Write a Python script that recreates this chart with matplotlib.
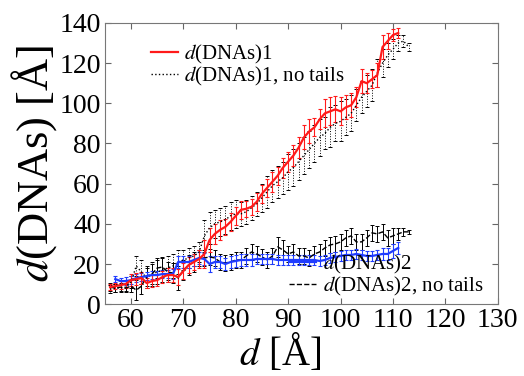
import numpy as np
import matplotlib
matplotlib.use("Agg")
import matplotlib.pyplot as plt

# donnees
x1 = np.arange(56, 112)
d1 = [8.5, 9, 9.5, 10, 12, 12.5, 13, 10.5, 11.5, 12, 13.5, 14.5, 14.5, 13.5,
      16.5, 19.5, 21, 22.5, 25, 32, 35, 37, 38.5, 41, 44, 47, 47.5, 48.5, 51,
      55, 58, 61, 64, 68, 71, 74, 78, 83, 86, 88, 92, 95, 96, 97, 96, 98, 99,
      103, 111, 110, 112, 114, 128, 131, 134, 135]
e1 = [1.5, 1.5, 2, 2, 3, 3, 3, 2.5, 3, 3, 3, 3.5, 3.5, 4, 4, 4, 4, 4.5, 7, 6,
      5, 5, 4, 4.5, 4.5, 4.5, 4, 4, 4.5, 4.5, 4.5, 5, 4.5, 5, 5, 5, 5, 6, 6,
      4.5, 5, 7, 7, 6.5, 7, 6, 6, 5, 6, 5, 4.5, 6, 6, 4, 3, 2.5]

x1nt = np.arange(56, 114)
d1nt = [7.5, 8, 8, 8.5, 11, 19, 16, 13, 15, 16, 17, 18, 19, 21, 22, 23, 24,
        26, 34, 38, 40, 41, 42, 44, 45, 45, 46, 48, 50, 53, 56, 59, 61, 63,
        66, 68, 71, 74, 77, 80, 83, 85, 88, 90, 91, 93, 95, 99, 103, 106, 109,
        115, 120, 124, 127, 130, 131, 128]
e1nt = [2, 2, 2, 2, 3, 5, 6, 5, 6, 6, 6, 6, 6, 6, 5, 5, 5, 5, 8, 8, 7, 7, 7,
        7, 7, 6, 6, 6, 6, 7, 8, 8, 8, 8, 9, 9, 9, 9, 9, 9, 9, 8, 10, 9, 10, 9,
        9, 8, 8, 8, 8, 7, 7, 6, 5, 4, 3, 2]

x2 = np.arange(57, 112)
d2 = [12.5, 11.5, 11.5, 12, 13, 13.5, 14, 14.5, 14.5, 15, 15, 15, 21, 21, 21,
      22, 23, 22.5, 20, 21, 21, 20, 21, 21.5, 22, 22, 22, 22.5, 22.5, 22.5,
      22.5, 22, 22, 22, 22, 22, 22, 22, 22, 21.5, 22, 23, 23.5, 24, 24.5,
      24.5, 25, 24.5, 24, 24, 24.5, 25, 25, 26.5, 28]
e2 = [1.5, 1.5, 2, 2, 2, 2, 2, 2, 2, 2, 2, 2.5, 3, 3, 3, 3, 3, 3, 4, 3, 3, 3,
      3, 3, 3, 3, 3, 2.5, 2.5, 2.5, 2.5, 2.5, 2.5, 2.5, 2.5, 2.5, 2.5, 2.5,
      2.5, 2.5, 2.5, 2.5, 2.5, 2.5, 2.5, 2.5, 2.5, 2.5, 2.5, 2.5, 2.5, 3, 3,
      3.5, 3]

x2nt = np.arange(56, 114)
d2nt = [8.5, 8, 8.5, 8, 9, 7, 9, 14, 15, 18, 18.5, 16, 15.5, 13, 17, 19.5,
        21, 23, 23, 23.5, 23, 21, 20.5, 21, 22, 22, 24, 26, 25, 23.5, 22,
        24, 28.5, 27, 25, 26, 24, 24, 23, 25, 26, 28, 29.5, 30, 31, 33, 34,
        31, 31, 33, 35.5, 35, 36, 33, 34, 35, 36, 36]
e2nt = [2, 2, 2, 2, 3, 5, 4, 5, 5, 5, 5, 5, 5, 6, 5, 5, 5, 4, 4, 4, 4, 4, 4,
        4, 4, 4, 4, 4, 4, 4, 4, 4, 5, 5, 4, 4, 4, 4, 4, 4, 4, 4, 4, 4, 4, 4,
        4, 4, 4, 4, 4, 4, 4, 4, 4, 3, 2, 1]

plt.rcParams['font.family'] = ['Liberation Serif', 'DejaVu Serif']
plt.rcParams['mathtext.fontset'] = 'stix'

fig = plt.figure(figsize=(5.24, 3.76), dpi=100)
ax = fig.add_axes([0.2, 0.191, 0.75, 0.748])

# courbes avec barres d'erreur
l1 = ax.errorbar(x1nt, d1nt, yerr=e1nt, color='black', lw=1.0, ls=':',
                 elinewidth=0.7, capsize=1.5, capthick=0.7)
l1[2][0].set_linestyle(':')
l2 = ax.errorbar(x2nt, d2nt, yerr=e2nt, color='black', lw=1.0, ls='--',
                 elinewidth=0.7, capsize=1.5, capthick=0.7)
l3 = ax.errorbar(x2, d2, yerr=e2, color='#1f3cff', lw=1.6,
                 elinewidth=0.8, capsize=1.5, capthick=0.8)
l4 = ax.errorbar(x1, d1, yerr=e1, color='#ff1a1a', lw=1.6,
                 elinewidth=0.8, capsize=1.5, capthick=0.8)

ax.set_xlim(55, 130)
ax.set_ylim(0, 140)
ax.set_xticks(np.arange(60, 131, 10))
ax.set_yticks(np.arange(0, 141, 20))
ax.tick_params(direction='in', top=True, right=True, labelsize=20,
               length=4, color='#666666', pad=3)
for s in ax.spines.values():
    s.set_color('#777777')

ax.set_xlabel(r'$d$ [Å]', fontsize=28)
ax.xaxis.set_label_coords(0.445, -0.1)
ax.set_ylabel(r'$d$(DNAs) [Å]', fontsize=32, labelpad=0)

leg1 = ax.legend([l4[0], l1[0]], [r'$d$(DNAs)1', r'$d$(DNAs)1, no tails'],
                 loc='upper left', bbox_to_anchor=(0.08, 0.98), frameon=False,
                 fontsize=15, handlelength=1.3, handletextpad=0.3,
                 labelspacing=-0.05, borderpad=0.2)
ax.add_artist(leg1)
ax.legend([l3[0], l2[0]], [r'$d$(DNAs)2', r'$d$(DNAs)2, no tails'],
          loc='lower right', bbox_to_anchor=(1.0, -0.03), frameon=False,
          fontsize=15, handlelength=1.3, handletextpad=0.3,
          labelspacing=-0.05, borderpad=0.2)

fig.savefig('out.png', dpi=100)
